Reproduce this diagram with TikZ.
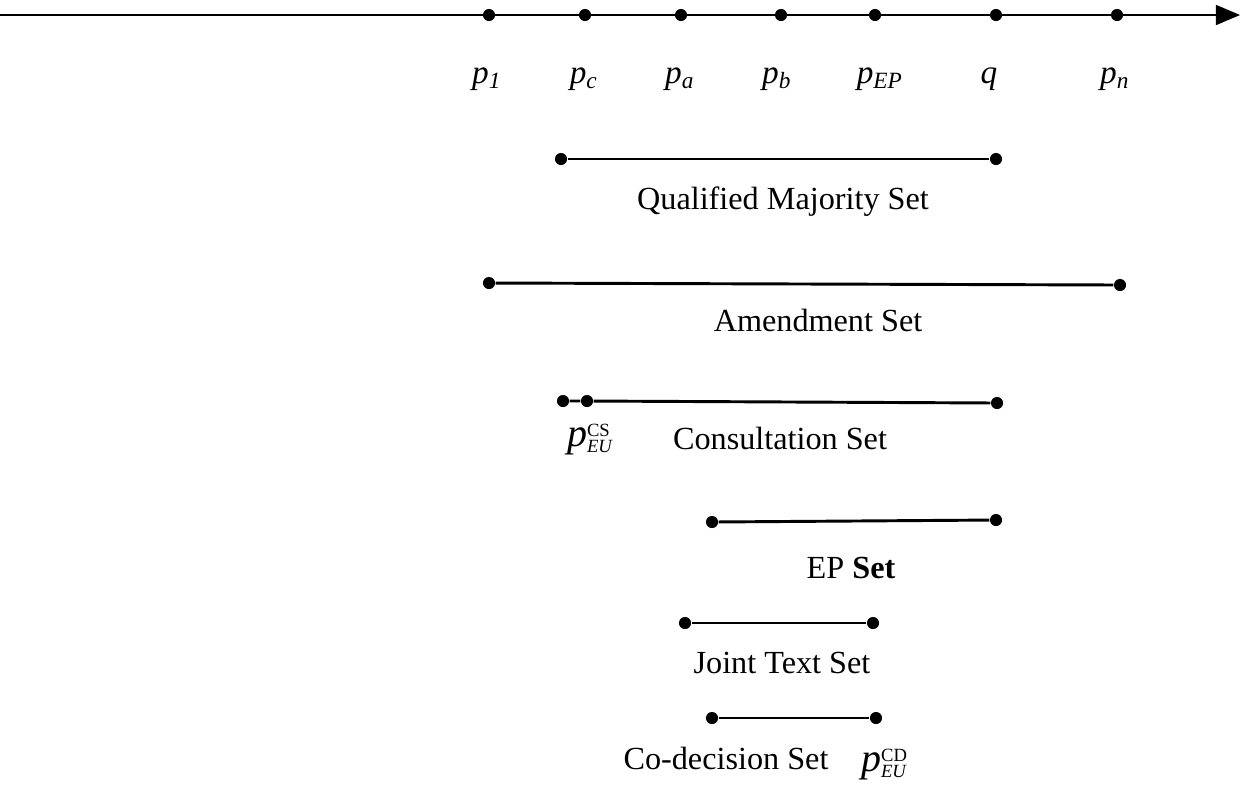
\documentclass[tikz,border=0pt]{standalone}
\usepackage{fontspec}
\setmainfont{Liberation Serif}
\usetikzlibrary{arrows}
\usetikzlibrary{positioning}
\newcommand{\pl}[1]{\textit{p}\textsubscript{\textit{#1}}}
\newcommand{\peu}[1]{{\fontsize{15}{17}\selectfont\textit{p}}\raisebox{-0.35ex}{\makebox[0pt][l]{\scriptsize\raisebox{1.8ex}{#1}}\scriptsize\textit{EU}}}
\tikzset{
        % points on the line
        pt/.style={circle, fill=black, inner sep=0pt, minimum size=0.16cm},
        % labels of points
        ptlabel/.style={font=\fontsize{12.5}{15}\selectfont, inner sep=1pt},
        % names of the sets
        setlabel/.style={font=\fontsize{12.1}{15}\selectfont, inner sep=1pt},
        % segments
        seg/.style={line width=1.1pt}
}
\begin{document}
\begin{tikzpicture}[x=0.0132cm, y=-0.0132cm]
    \useasboundingbox (0,0) rectangle (1242,793);
    % axis
    \coordinate (start) at (0,15);
    \coordinate (end) at (1240,15);
    \draw[seg, -triangle 45] (start) -- (end);
    \foreach \n/\x/\lx/\t in {p1/489/487/\pl{1}, pc/585/584/\pl{c}, pa/681/680/\pl{a}, pb/781/777/\pl{b}, pep/875/880/\pl{EP}, q/996/989/\textit{q}, pn/1117/1115/\pl{n}} {
        \node[pt] (\n) at (\x,15) {};
        \node[ptlabel] (\n l) at (\lx,79) {\t};
    }
    % qualified majority
    \node[pt] (qm1) at (561,159) {};
    \node[pt] (qm2) at (996,159) {};
    \draw[seg] (qm1) -- (qm2);
    \node[setlabel] (qml) at (783,202) {Qualified Majority Set};
    % amendment
    \node[pt] (am1) at (489,283) {};
    \node[pt] (am2) at (1120,285) {};
    \draw[seg] (am1) -- (am2);
    \node[setlabel] (aml) at (818,320) {Amendment Set};
    % consultation
    \node[pt] (cs0) at (563,401) {};
    \node[pt] (cs1) at (587,401) {};
    \node[pt] (cs2) at (997,403) {};
    \draw[seg] (cs0) -- (cs1) -- (cs2);
    \node[ptlabel] (csp) at (590,440) {\peu{CS}};
    \node[setlabel] (csl) at (780,438) {Consultation Set};
    % EP
    \node[pt] (ep1) at (712,522) {};
    \node[pt] (ep2) at (996,520) {};
    \draw[seg] (ep1) -- (ep2);
    \node[setlabel] (epl) at (851,568) {EP \textbf{Set}};
    % joint text
    \node[pt] (jt1) at (685,623) {};
    \node[pt] (jt2) at (873,623) {};
    \draw[seg] (jt1) -- (jt2);
    \node[setlabel] (jtl) at (782,663) {Joint Text Set};
    % co-decision
    \node[pt] (cd1) at (712,718) {};
    \node[pt] (cd2) at (876,718) {};
    \draw[seg] (cd1) -- (cd2);
    \node[setlabel] (cdl) at (726,758) {Co-decision Set};
    \node[ptlabel] (cdp) at (884,765) {\peu{CD}};
\end{tikzpicture}
\end{document}
